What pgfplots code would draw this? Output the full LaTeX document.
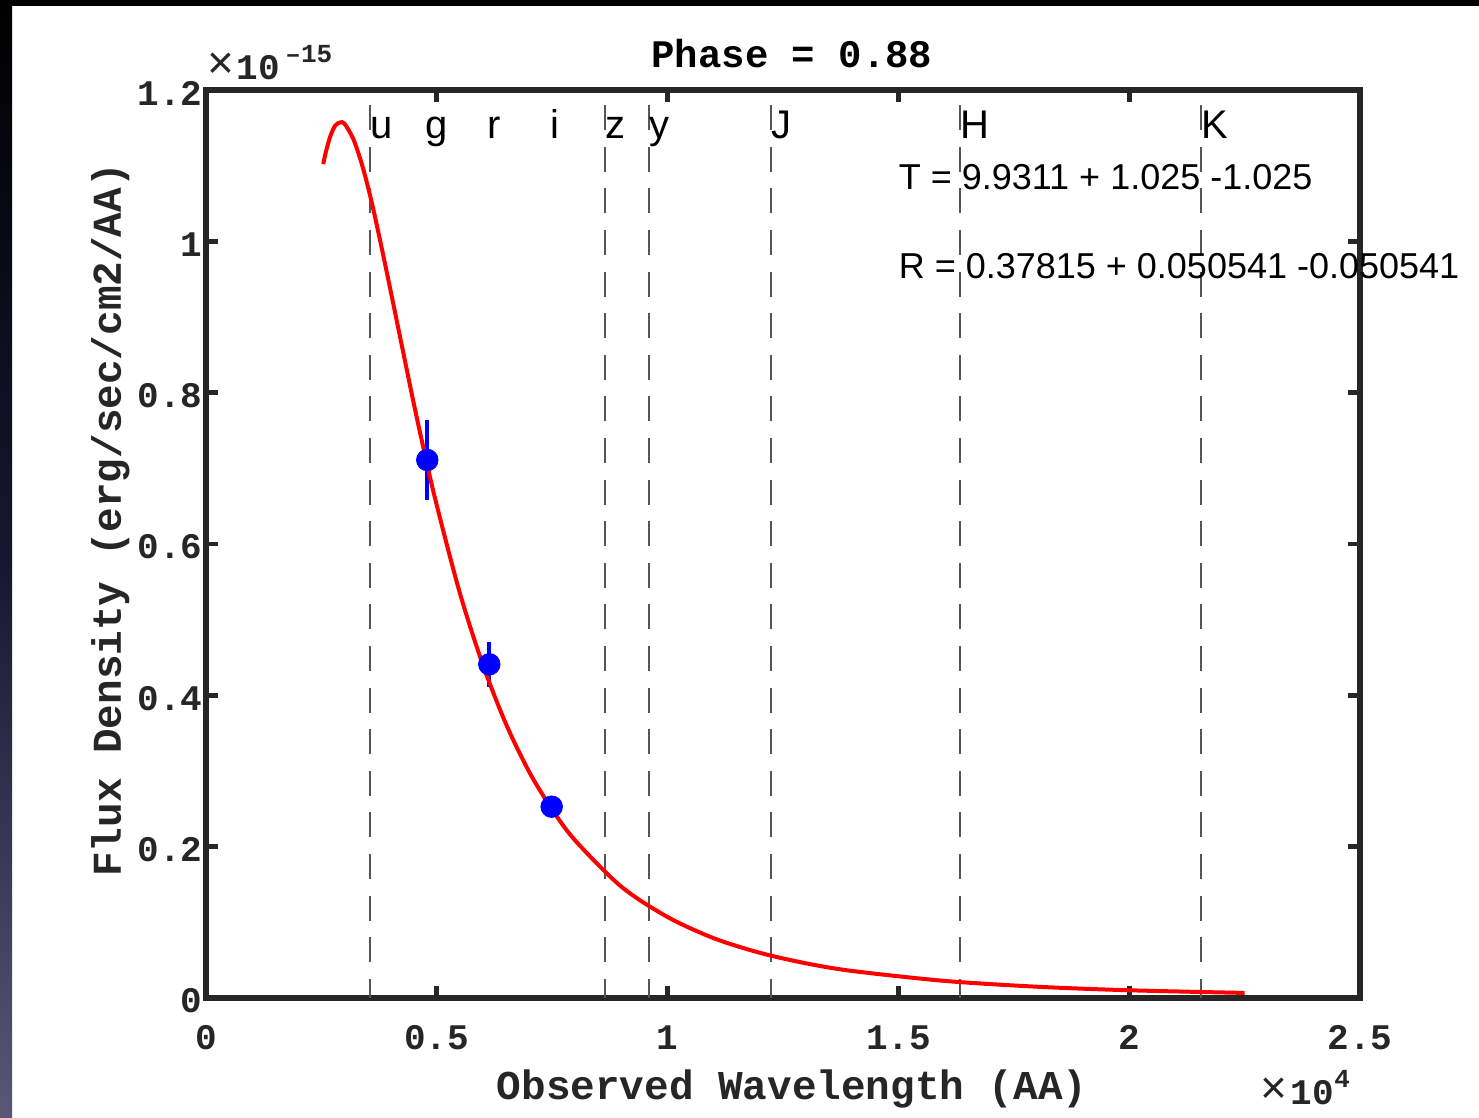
\documentclass[border=0pt]{standalone}
\usepackage{pgfplots}
\pgfplotsset{compat=1.18}
\usepackage{fontspec}
\setmainfont{Liberation Sans}
\newfontfamily\cour{Liberation Mono}
\definecolor{axc}{HTML}{262626}
\definecolor{dashc}{HTML}{555555}
\definecolor{bandbot}{RGB}{88,88,118}
\definecolor{bandmid}{RGB}{22,22,48}
\begin{document}
\begin{tikzpicture}[x=1pt,y=1pt]
\useasboundingbox (0,0) rectangle (739.5,559);
\fill[white] (0,0) rectangle (739.5,559);
\shade[top color=black, bottom color=bandbot, middle color=bandmid] (0,0) rectangle (6,559);
\fill[black] (0,556) rectangle (739.5,559);
\begin{axis}[
 scale only axis, width=577pt, height=454pt,
 at={(103pt,60pt)}, anchor=south west,
 xmin=0, xmax=25000, ymin=0, ymax=1.2,
 clip=false,
 scaled x ticks=false, scaled y ticks=false,
 axis line style={line width=2.6pt, color=axc},
 tick align=inside, major tick length=6pt,
 major tick style={line width=2.4pt, color=axc},
 xtick={0,5000,10000,15000,20000,25000},
 xticklabels={0,0.5,1,1.5,2,2.5},
 ytick={0,0.2,0.4,0.6,0.8,1,1.2},
 yticklabels={0,0.2,0.4,0.6,0.8,1,1.2},
 ticklabel style={font=\cour\bfseries\fontsize{18}{18}\selectfont, color=axc, inner sep=0pt},
 xticklabel style={anchor=north, yshift=-13.5pt},
 yticklabel style={anchor=east, xshift=-1.5pt, yshift=-1.5pt},
 xlabel={Observed Wavelength (AA)},
 ylabel={Flux Density (erg/sec/cm2/AA)},
 title={Phase = 0.88},
 every axis title shift=0pt,
 label style={font=\cour\bfseries\fontsize{20.5}{20.5}\selectfont, color=axc},
 xlabel style={at={(axis description cs:0.508,-0.1123)}, anchor=base},
 ylabel style={at={(axis description cs:-0.0737,0.5264)}, anchor=base},
 title style={font=\cour\bfseries\fontsize{19.5}{19.5}\selectfont, at={(axis description cs:0.5078,1.0253)}, anchor=base, yshift=0pt},
]
% filter band lines
\addplot[dashc, line width=1pt, dash pattern=on 12.5pt off 8.3pt] coordinates {(3553,1.18) (3553,0)};
\addplot[dashc, line width=1pt, dash pattern=on 12.5pt off 8.3pt] coordinates {(8644,1.18) (8644,0)};
\addplot[dashc, line width=1pt, dash pattern=on 12.5pt off 8.3pt] coordinates {(9597,1.18) (9597,0)};
\addplot[dashc, line width=1pt, dash pattern=on 12.5pt off 8.3pt] coordinates {(12240,1.18) (12240,0)};
\addplot[dashc, line width=1pt, dash pattern=on 12.5pt off 8.3pt] coordinates {(16334,1.18) (16334,0)};
\addplot[dashc, line width=1pt, dash pattern=on 12.5pt off 8.3pt] coordinates {(21555,1.18) (21555,0)};
% photometry
\addplot[blue, only marks, mark=*, mark size=5.4pt,
  error bars/.cd, y dir=both, y explicit, error mark=none,
  error bar style={line width=1.8pt, blue}]
  coordinates {(4794,0.711) +- (0,0.0535) (6137,0.441) +- (0,0.030) (7489,0.2528) +- (0,0.012)};
% fit
\addplot[red, line width=2pt, smooth] coordinates {
(2540,1.102) (2600,1.119) (2700,1.140) (2800,1.153) (2900,1.157) (3000,1.1555)
(3200,1.134) (3400,1.097) (3600,1.049) (3800,0.993) (4000,0.9345) (4250,0.860)
(4500,0.786) (4750,0.716) (5000,0.651) (5500,0.535) (6000,0.440) (6500,0.362)
(7000,0.299) (7500,0.249) (8000,0.208) (9000,0.147) (10000,0.107) (11000,0.079)
(12000,0.0597) (13000,0.0458) (14000,0.0357) (16000,0.0226) (18000,0.0149)
(20000,0.0102) (22500,0.0067)};
% band labels
\begin{scope}[every node/.style={anchor=base west, inner sep=0pt, font=\fontsize{20}{20}\selectfont}]
\node at (axis cs:3553,1.1365) {u};
\node at (axis cs:4745,1.1365) {g};
\node at (axis cs:6100,1.1365) {r};
\node at (axis cs:7460,1.1365) {i};
\node at (axis cs:8644,1.1365) {z};
\node at (axis cs:9597,1.1365) {y};
\node at (axis cs:12240,1.1365) {J};
\node at (axis cs:16334,1.1365) {H};
\node at (axis cs:21555,1.1365) {K};
\end{scope}
\node[anchor=base west, inner sep=0pt, font=\fontsize{18}{18}\selectfont] at (axis cs:15000,1.069) {T = 9.9311 + 1.025 -1.025};
\node[anchor=base west, inner sep=0pt, font=\fontsize{18}{18}\selectfont] at (axis cs:15000,0.9515) {R = 0.37815 + 0.050541 -0.050541};
\end{axis}
% multipliers
\node[anchor=base west, inner sep=0pt, font=\fontsize{23}{23}\selectfont, text=axc] at (103.5,519.5) {×};
\node[anchor=base west, inner sep=0pt, font=\cour\bfseries\fontsize{18}{18}\selectfont, text=axc] at (118,519) {10};
\node[anchor=base west, inner sep=0pt, font=\cour\bfseries\fontsize{13}{13}\selectfont, text=axc] at (142.5,527.5) {–15};
\node[anchor=base west, inner sep=0pt, font=\fontsize{23}{23}\selectfont, text=axc] at (630,7) {×};
\node[anchor=base west, inner sep=0pt, font=\cour\bfseries\fontsize{18}{18}\selectfont, text=axc] at (645,6.5) {10};
\node[anchor=base west, inner sep=0pt, font=\cour\bfseries\fontsize{13}{13}\selectfont, text=axc] at (667,15) {4};
\end{tikzpicture}
\end{document}
